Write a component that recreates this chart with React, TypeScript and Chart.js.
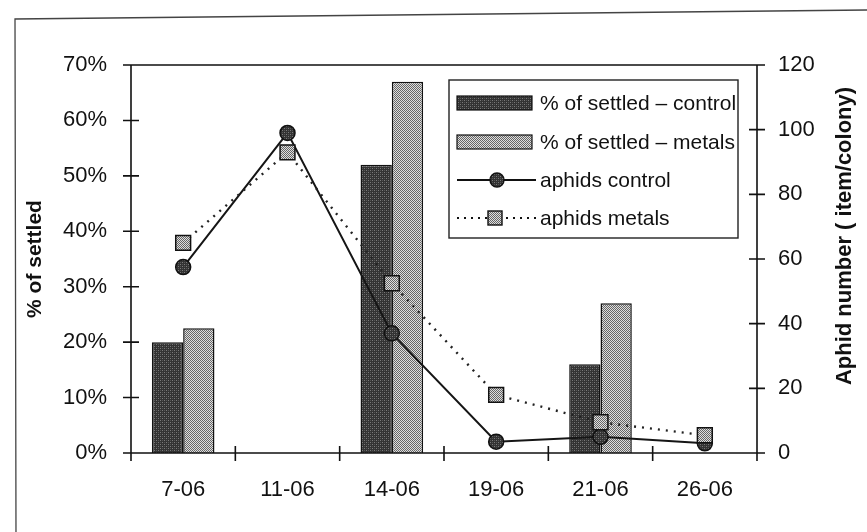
import React, { useEffect, useRef } from "react";
import { Chart, registerables } from "chart.js";

Chart.register(...registerables);

const categories = ["7-06", "11-06", "14-06", "19-06", "21-06", "26-06"];
const settledControl: (number | null)[] = [20, null, 52, null, 16, null];
const settledMetals: (number | null)[] = [22.5, null, 67, null, 27, null];
const aphidsControl = [57.5, 99, 37, 3.5, 5, 3];
const aphidsMetals = [65, 93, 52.5, 18, 9.5, 5.5];
const leftTicks = [0, 10, 20, 30, 40, 50, 60, 70];
const rightTicks = [0, 20, 40, 60, 80, 100, 120];
const legendLabels = [
  "% of settled \u2013 control",
  "% of settled \u2013 metals",
  "aphids control",
  "aphids metals",
];
const leftTitle = "% of settled";
const rightTitle = "Aphid number ( item/colony)";

const FONT = '"Liberation Sans", Arial, sans-serif';
const INK = "#111111";

function makePattern(kind: "dark" | "light"): CanvasPattern | string {
  const c = document.createElement("canvas");
  c.width = 4;
  c.height = 4;
  const g = c.getContext("2d");
  if (!g) return kind === "dark" ? "#444" : "#aaa";
  if (kind === "dark") {
    g.fillStyle = "#333333";
    g.fillRect(0, 0, 4, 4);
    g.fillStyle = "#7a7a7a";
    g.fillRect(0, 0, 1, 1);
    g.fillRect(2, 2, 1, 1);
    g.fillStyle = "#555555";
    g.fillRect(2, 0, 1, 1);
    g.fillRect(0, 2, 1, 1);
  } else {
    g.fillStyle = "#dedede";
    g.fillRect(0, 0, 4, 4);
    g.fillStyle = "#666666";
    for (let y = 0; y < 4; y++) {
      for (let x = 0; x < 4; x++) {
        if ((x + y) % 2 === 0) g.fillRect(x, y, 1, 1);
      }
    }
  }
  const p = g.createPattern(c, "repeat");
  return p || (kind === "dark" ? "#444" : "#aaa");
}

export default function App() {
  const ref = useRef<HTMLCanvasElement | null>(null);

  useEffect(() => {
    document.body.style.margin = "0";
    const canvas = ref.current;
    if (!canvas) return;
    const dark = makePattern("dark");
    const light = makePattern("light");

    const framePlugin = {
      id: "frame",
      beforeDraw(chart: any) {
        const ctx = chart.ctx;
        ctx.save();
        ctx.fillStyle = "#ffffff";
        ctx.fillRect(0, 0, chart.width, chart.height);
        ctx.strokeStyle = "#444";
        ctx.lineWidth = 1.3;
        ctx.beginPath();
        ctx.moveTo(16, 540);
        ctx.lineTo(15, 19);
        ctx.lineTo(867, 10);
        ctx.stroke();
        ctx.restore();
      },
      afterDatasetsDraw(chart: any) {
        const ctx = chart.ctx;
        const a = chart.chartArea;
        const yl = chart.scales.y;
        const yr = chart.scales.y1;
        ctx.save();
        ctx.strokeStyle = "#111";
        ctx.lineWidth = 1.6;
        ctx.beginPath();
        ctx.moveTo(a.left, a.top);
        ctx.lineTo(a.right, a.top);
        ctx.moveTo(a.left, a.top);
        ctx.lineTo(a.left, a.bottom);
        ctx.moveTo(a.right, a.top);
        ctx.lineTo(a.right, a.bottom);
        ctx.moveTo(a.left - 4, a.bottom);
        ctx.lineTo(a.right + 8, a.bottom);
        leftTicks.forEach((v) => {
          const py = yl.getPixelForValue(v);
          ctx.moveTo(a.left - 8, py);
          ctx.lineTo(a.left + 8, py);
        });
        rightTicks.forEach((v) => {
          const py = yr.getPixelForValue(v);
          ctx.moveTo(a.right - 8, py);
          ctx.lineTo(a.right + 8, py);
        });
        for (let i = 0; i <= categories.length; i++) {
          const px = a.left + ((a.right - a.left) * i) / categories.length;
          ctx.moveTo(px, a.bottom - 7);
          ctx.lineTo(px, a.bottom + 8);
        }
        ctx.stroke();
        ctx.restore();
      },
      afterDraw(chart: any) {
        const ctx = chart.ctx;
        const a = chart.chartArea;
        ctx.save();
        ctx.fillStyle = INK;
        ctx.font = `bold 21px ${FONT}`;
        ctx.textAlign = "center";
        ctx.textBaseline = "middle";
        ctx.translate(35, (a.top + a.bottom) / 2);
        ctx.rotate(-Math.PI / 2);
        ctx.fillText(leftTitle, 0, 0);
        ctx.restore();
        ctx.save();
        ctx.fillStyle = INK;
        ctx.font = `bold 22px ${FONT}`;
        ctx.textAlign = "center";
        ctx.textBaseline = "middle";
        ctx.translate(845, 236);
        ctx.rotate(-Math.PI / 2);
        ctx.fillText(rightTitle, 0, 0);
        ctx.restore();

        ctx.save();
        const bx = 449, by = 80, bw = 289, bh = 158;
        ctx.fillStyle = "#fff";
        ctx.fillRect(bx, by, bw, bh);
        ctx.strokeStyle = "#222";
        ctx.lineWidth = 1.4;
        ctx.strokeRect(bx, by, bw, bh);
        const rows = [103, 142, 180, 218];
        [dark, light].forEach((fill, i) => {
          ctx.fillStyle = fill as any;
          ctx.fillRect(457, rows[i] - 7, 75, 14);
          ctx.strokeStyle = "#111";
          ctx.lineWidth = 1.2;
          ctx.strokeRect(457, rows[i] - 7, 75, 14);
        });
        ctx.strokeStyle = "#111";
        ctx.lineWidth = 2;
        ctx.setLineDash([]);
        ctx.beginPath();
        ctx.moveTo(457, rows[2]);
        ctx.lineTo(536, rows[2]);
        ctx.stroke();
        ctx.beginPath();
        ctx.arc(497, rows[2], 7, 0, Math.PI * 2);
        ctx.fillStyle = dark as any;
        ctx.fill();
        ctx.lineWidth = 1.4;
        ctx.stroke();
        ctx.lineWidth = 2.2;
        ctx.setLineDash([2, 5]);
        ctx.beginPath();
        ctx.moveTo(457, rows[3]);
        ctx.lineTo(536, rows[3]);
        ctx.stroke();
        ctx.setLineDash([]);
        ctx.fillStyle = "#fff";
        ctx.fillRect(487, rows[3] - 8, 16, 16);
        ctx.fillStyle = light as any;
        ctx.fillRect(488, rows[3] - 7, 14, 14);
        ctx.lineWidth = 1.4;
        ctx.strokeRect(488, rows[3] - 7, 14, 14);
        ctx.fillStyle = INK;
        ctx.font = `21px ${FONT}`;
        ctx.textAlign = "left";
        ctx.textBaseline = "middle";
        legendLabels.forEach((t, i) => ctx.fillText(t, 540, rows[i] + 1));
        ctx.restore();
      },
    };

    const chart = new Chart(canvas, {
      type: "bar",
      data: {
        labels: categories,
        datasets: [
          {
            type: "line",
            label: legendLabels[2],
            data: aphidsControl,
            yAxisID: "y1",
            borderColor: "#151515",
            borderWidth: 2,
            pointStyle: "circle",
            pointRadius: 7.5,
            pointBorderWidth: 1.5,
            pointBorderColor: "#111",
            pointBackgroundColor: dark as any,
            order: 1,
          } as any,
          {
            type: "line",
            label: legendLabels[3],
            data: aphidsMetals,
            yAxisID: "y1",
            borderColor: "#222",
            borderWidth: 2.4,
            borderDash: [2, 6],
            pointStyle: "rect",
            pointRadius: 10.5,
            pointBorderWidth: 1.5,
            pointBorderColor: "#111",
            pointBackgroundColor: light as any,
            order: 0,
          } as any,
          {
            type: "bar",
            label: legendLabels[0],
            data: settledControl,
            yAxisID: "y",
            backgroundColor: dark as any,
            borderColor: "#111",
            borderWidth: 1.5,
            categoryPercentage: 0.6,
            barPercentage: 1,
            order: 3,
          },
          {
            type: "bar",
            label: legendLabels[1],
            data: settledMetals,
            yAxisID: "y",
            backgroundColor: light as any,
            borderColor: "#111",
            borderWidth: 1.5,
            categoryPercentage: 0.6,
            barPercentage: 1,
            order: 3,
          },
        ],
      },
      options: {
        responsive: false,
        animation: false,
        devicePixelRatio: 1,
        layout: { padding: { left: 16, right: 0, top: 65, bottom: 0 } },
        plugins: {
          legend: { display: false },
          tooltip: { enabled: false },
        },
        scales: {
          x: {
            type: "category",
            offset: true,
            grid: { display: false, drawTicks: false },
            border: { display: false },
            ticks: {
              color: INK,
              font: { family: FONT, size: 22 },
              padding: 24,
              maxRotation: 0,
              autoSkip: false,
            },
            afterFit: (s: any) => {
              s.height = 79;
            },
          },
          y: {
            type: "linear",
            position: "left",
            min: 0,
            max: 70,
            afterBuildTicks: (s: any) => {
              s.ticks = leftTicks.map((v) => ({ value: v }));
            },
            grid: { display: false, drawTicks: false },
            border: { display: false },
            ticks: {
              color: INK,
              font: { family: FONT, size: 22 },
              padding: 24,
              callback: (v: any) => `${v}%`,
            },
            afterFit: (s: any) => {
              s.width = 115;
            },
          },
          y1: {
            type: "linear",
            position: "right",
            min: 0,
            max: 120,
            afterBuildTicks: (s: any) => {
              s.ticks = rightTicks.map((v) => ({ value: v }));
            },
            grid: { display: false, drawTicks: false },
            border: { display: false },
            ticks: {
              color: INK,
              font: { family: FONT, size: 22 },
              padding: 21,
            },
            afterFit: (s: any) => {
              s.width = 110;
            },
          },
        },
      },
      plugins: [framePlugin],
    });
    return () => chart.destroy();
  }, []);

  return <canvas ref={ref} width={867} height={532} style={{ display: "block" }} />;
}
